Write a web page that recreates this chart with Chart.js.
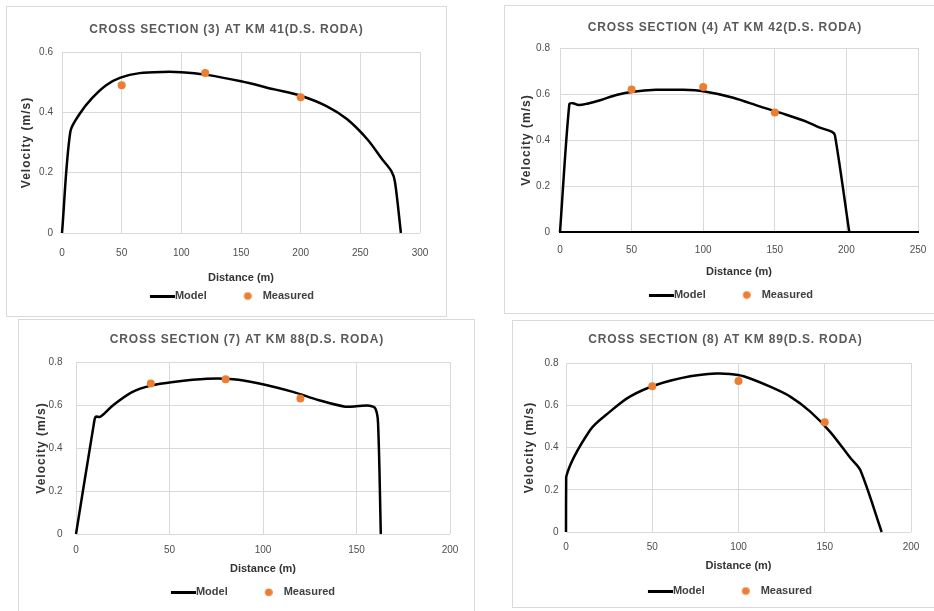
<!DOCTYPE html>
<html><head><meta charset="utf-8">
<script src="https://cdn.jsdelivr.net/npm/chart.js@4.4.1/dist/chart.umd.min.js"></script>
<style>
html,body{margin:0;padding:0;background:#fff;overflow:hidden;width:934px;height:611px;}
.panel{position:absolute;box-sizing:border-box;border:1px solid #d9d9d9;background:#fff;}
.panel canvas{display:block;}
</style></head><body>
<div class="panel" id="b1"><canvas id="c1"></canvas></div>
<div class="panel" id="b2"><canvas id="c2"></canvas></div>
<div class="panel" id="b3"><canvas id="c3"></canvas></div>
<div class="panel" id="b4"><canvas id="c4"></canvas></div>
<script>
// ---------- data ----------
const title1 = 'CROSS SECTION (3) AT KM 41(D.S. RODA)';
const title2 = 'CROSS SECTION (4) AT KM 42(D.S. RODA)';
const title3 = 'CROSS SECTION (7) AT KM 88(D.S. RODA)';
const title4 = 'CROSS SECTION (8) AT KM 89(D.S. RODA)';
const seriesNames = ['Model', 'Measured'];
const xAxisTitle = 'Distance (m)';
const yAxisTitle = 'Velocity (m/s)';

const model1X = [0, 7, 15, 25, 37, 49, 65, 85, 100, 120, 150, 178, 200, 222, 239, 256, 268, 276, 279, 284];
const model1Y = [0, 0.336, 0.396, 0.446, 0.49, 0.515, 0.53, 0.534, 0.533, 0.525, 0.503, 0.476, 0.455, 0.42, 0.377, 0.31, 0.246, 0.205, 0.17, 0];
const meas1X = [50, 120, 200];
const meas1Y = [0.49, 0.53, 0.45];
const xTicks1 = [0, 50, 100, 150, 200, 250, 300];
const yTicks1 = [0, 0.2, 0.4, 0.6];

const model2X = [0, 6.5, 9, 13, 19, 28, 40, 51, 67, 86, 100, 121, 140, 158, 172, 181, 190, 192, 202];
const model2Y = [0, 0.555, 0.56, 0.552, 0.558, 0.573, 0.597, 0.61, 0.618, 0.618, 0.612, 0.584, 0.545, 0.51, 0.48, 0.455, 0.435, 0.42, 0];
const meas2X = [50, 100, 150];
const meas2Y = [0.62, 0.63, 0.52];
const xTicks2 = [0, 50, 100, 150, 200, 250];
const yTicks2 = [0, 0.2, 0.4, 0.6, 0.8];

const model3X = [0, 9.5, 10.5, 13, 20, 30, 40, 52, 70, 84, 98, 116, 130, 144, 151, 157, 160, 161.5, 163];
const model3Y = [0, 0.51, 0.545, 0.545, 0.6, 0.66, 0.69, 0.707, 0.722, 0.72, 0.7, 0.661, 0.622, 0.592, 0.595, 0.597, 0.585, 0.52, 0];
const meas3X = [40, 80, 120];
const meas3Y = [0.70, 0.72, 0.63];
const xTicks3 = [0, 50, 100, 150, 200];
const yTicks3 = [0, 0.2, 0.4, 0.6, 0.8];

const model4X = [0, 0.1, 14, 25.5, 37, 52.6, 72, 87, 95, 103, 118, 130, 141.6, 153, 165, 170.6, 183];
const model4Y = [0, 0.26, 0.483, 0.57, 0.641, 0.697, 0.737, 0.75, 0.748, 0.737, 0.689, 0.641, 0.57, 0.475, 0.349, 0.293, 0];
const meas4X = [50, 100, 150];
const meas4Y = [0.69, 0.715, 0.52];
const xTicks4 = [0, 50, 100, 150, 200];
const yTicks4 = [0, 0.2, 0.4, 0.6, 0.8];

// ---------- layout (page coordinates) ----------
const LAYOUT = {
  c1: {box:{x:6,y:6,w:441,h:311}, plot:{l:62,t:52,r:420,b:233}, titleY:30, titleCX:226, yTickRight:53, xTickY:253, xTitleY:278, yTitleX:27, legendY:296, legendCX:232, xBorder:false},
  c2: {box:{x:504,y:5,w:440,h:309}, plot:{l:560,t:48,r:918,b:232}, titleY:28, titleCX:724.5, yTickRight:550, xTickY:250, xTitleY:271.7, yTitleX:526.7, legendY:295, legendCX:731, xBorder:true},
  c3: {box:{x:18,y:319,w:457,h:300}, plot:{l:76,t:362,r:450,b:534}, titleY:340, titleCX:246.5, yTickRight:62.5, xTickY:550, xTitleY:569, yTitleX:41.7, legendY:592.3, legendCX:253, xBorder:false},
  c4: {box:{x:512,y:320,w:426,h:288}, plot:{l:566,t:363,r:911,b:532}, titleY:340, titleCX:725, yTickRight:558.5, xTickY:547.7, xTitleY:565.7, yTitleX:530, legendY:591, legendCX:730, xBorder:false}
};

const FONT = '"Liberation Sans", Arial, sans-serif';
const ORANGE = '#ED7D31';

function lineImg() {
  const c = document.createElement('canvas'); c.width = 55; c.height = 3;
  const g = c.getContext('2d'); g.fillStyle = '#000'; g.fillRect(30, 0, 25, 3);
  return c;
}
function dotImg() {
  const c = document.createElement('canvas'); c.width = 33; c.height = 9;
  const g = c.getContext('2d'); g.fillStyle = ORANGE; g.beginPath(); g.arc(29, 4.5, 3.8, 0, Math.PI * 2); g.fill();
  return c;
}
const LINE_IMG = lineImg(), DOT_IMG = dotImg();

function pts(xs, ys) { return xs.map((x, i) => ({x: x, y: ys[i]})); }

function makePanel(id, boxId, d) {
  const L = LAYOUT[id];
  const boxEl = document.getElementById(boxId);
  boxEl.style.left = L.box.x + 'px'; boxEl.style.top = L.box.y + 'px';
  boxEl.style.width = L.box.w + 'px'; boxEl.style.height = L.box.h + 'px';
  const cl = L.box.x + 1, ct = L.box.y + 1, cw = L.box.w - 2, ch = L.box.h - 2;
  const canvas = document.getElementById(id);
  canvas.width = cw; canvas.height = ch;
  canvas.style.width = cw + 'px'; canvas.style.height = ch + 'px';

  const titleLH = 12 * 1.2, tickLH = 10 * 1.2, xtLH = 11 * 1.2, ytLH = 12 * 1.2;
  const legPad = 6.5, legItemH = 11, legH = legItemH + legPad + 10;
  const legTop = L.legendY - legPad - legItemH / 2;
  const padB = (ct + ch) - (legTop + legH);
  const padR = (cl + cw) - L.plot.r;
  const yAxisW = L.plot.l - cl;
  const xAxisH = legTop - L.plot.b;

  const tweak = {
    id: 'tweak',
    beforeDraw(chart) {
      if (chart.$tw) return; chart.$tw = true;
      const ctx = chart.ctx;
      const tb = chart.titleBlock; const tDraw = tb.draw.bind(tb);
      tb.draw = function () {
        const dx = (L.titleCX - cl) - (this.left + this.right) / 2;
        ctx.save(); ctx.letterSpacing = '0.8px'; ctx.translate(dx + 0.4, 0); tDraw(); ctx.restore();
      };
      const ys = chart.scales.y; const yDraw = ys.drawTitle.bind(ys);
      ys.drawTitle = function () { ctx.save(); ctx.letterSpacing = '1px'; yDraw(); ctx.restore(); };
      const lg = chart.legend; const lDraw = lg.draw.bind(lg);
      lg.draw = function () {
        const hb = this.legendHitBoxes;
        const start = hb[0].left + 24.5, end = hb[1].left + hb[1].width;
        const dx = (L.legendCX - cl) - (start + end) / 2;
        ctx.save(); ctx.translate(dx, 0); lDraw(); ctx.restore();
      };
    }
  };

  new Chart(canvas, {
    type: 'scatter',
    data: {
      datasets: [
        {label: seriesNames[0], data: pts(d.mx, d.my), showLine: true, borderColor: '#000', backgroundColor: '#000',
         borderWidth: 2.5, pointRadius: 0, pointHoverRadius: 0, tension: 0.3, clip: false, order: 1},
        {label: seriesNames[1], data: pts(d.px, d.py), showLine: false, pointRadius: 4, pointHoverRadius: 4,
         backgroundColor: ORANGE, borderColor: ORANGE, borderWidth: 0, clip: false, order: 0}
      ]
    },
    options: {
      responsive: false, animation: false, devicePixelRatio: 1, events: [],
      layout: {padding: {left: 0, top: 0, right: padR, bottom: padB}},
      plugins: {
        title: {display: true, text: d.title, color: '#595959', font: {family: FONT, size: 12, weight: 'bold'},
                padding: {top: L.titleY - ct - titleLH / 2, bottom: L.plot.t - L.titleY - titleLH / 2}},
        legend: {display: true, position: 'bottom',
          labels: {usePointStyle: true, pointStyleWidth: 44, padding: legPad, color: '#404040',
                   font: {family: FONT, size: 11, weight: 'bold'},
                   generateLabels: () => [
                     {text: seriesNames[0], pointStyle: LINE_IMG, fillStyle: '#000', strokeStyle: '#000', lineWidth: 0, hidden: false, datasetIndex: 0, fontColor: '#404040'},
                     {text: seriesNames[1], pointStyle: DOT_IMG, fillStyle: ORANGE, strokeStyle: ORANGE, lineWidth: 0, hidden: false, datasetIndex: 1, fontColor: '#404040'}
                   ]}},
        tooltip: {enabled: false}
      },
      scales: {
        x: {type: 'linear', position: 'bottom', min: d.xt[0], max: d.xt[d.xt.length - 1],
            afterBuildTicks: s => { s.ticks = d.xt.map(v => ({value: v})); },
            afterFit: s => { s.height = xAxisH; },
            ticks: {color: '#4d4d4d', font: {family: FONT, size: 10}, padding: L.xTickY - L.plot.b - tickLH / 2, maxRotation: 0, autoSkip: false},
            grid: {color: '#d9d9d9', lineWidth: 1, drawTicks: false},
            border: {display: L.xBorder, color: '#000', width: 2},
            title: {display: true, text: xAxisTitle, color: '#333', font: {family: FONT, size: 11, weight: 'bold'},
                    padding: {top: 0, bottom: legTop - xtLH / 2 - L.xTitleY}}},
        y: {type: 'linear', position: 'left', min: d.yt[0], max: d.yt[d.yt.length - 1],
            afterBuildTicks: s => { s.ticks = d.yt.map(v => ({value: v})); },
            afterFit: s => { s.width = yAxisW; },
            ticks: {color: '#4d4d4d', font: {family: FONT, size: 10}, padding: L.plot.l - L.yTickRight, autoSkip: false,
                    callback: v => String(v)},
            grid: {color: '#d9d9d9', lineWidth: 1, drawTicks: false},
            border: {display: false},
            title: {display: true, text: yAxisTitle, color: '#333', font: {family: FONT, size: 12, weight: 'bold'},
                    padding: {top: L.yTitleX - cl - ytLH / 2, bottom: 0}}}
      }
    },
    plugins: [tweak]
  });
}

makePanel('c1', 'b1', {title: title1, mx: model1X, my: model1Y, px: meas1X, py: meas1Y, xt: xTicks1, yt: yTicks1});
makePanel('c2', 'b2', {title: title2, mx: model2X, my: model2Y, px: meas2X, py: meas2Y, xt: xTicks2, yt: yTicks2});
makePanel('c3', 'b3', {title: title3, mx: model3X, my: model3Y, px: meas3X, py: meas3Y, xt: xTicks3, yt: yTicks3});
makePanel('c4', 'b4', {title: title4, mx: model4X, my: model4Y, px: meas4X, py: meas4Y, xt: xTicks4, yt: yTicks4});
</script>
</body></html>
